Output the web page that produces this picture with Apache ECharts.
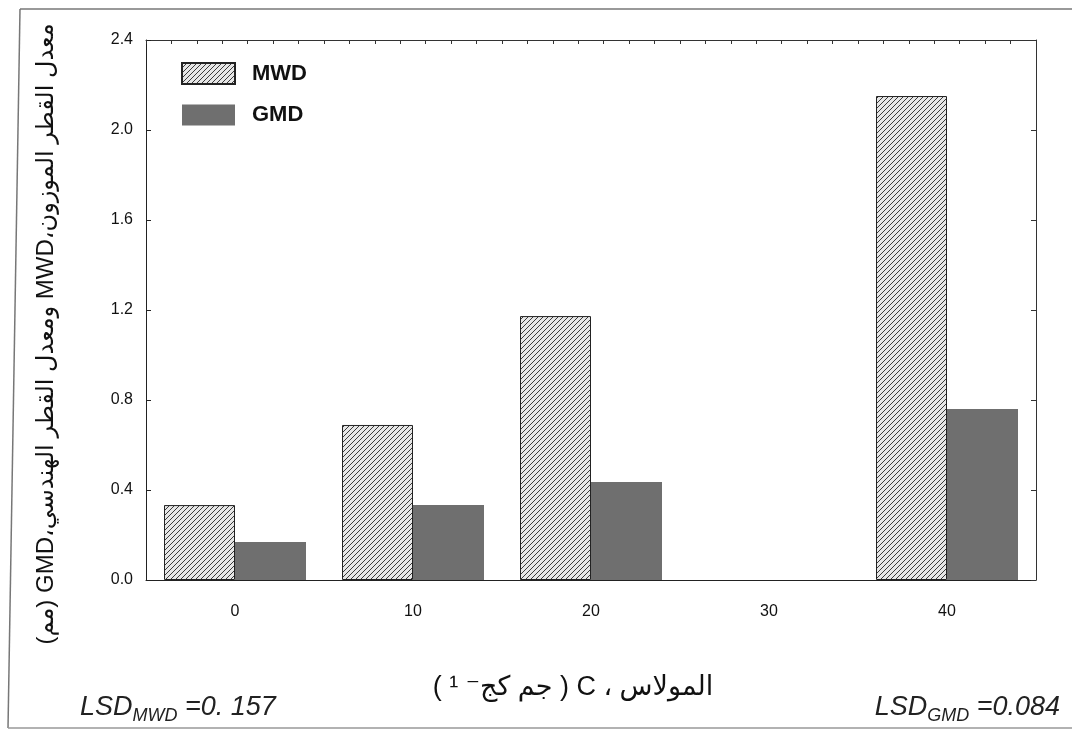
<!DOCTYPE html>
<html>
<head>
<meta charset="utf-8">
<script src="https://cdn.jsdelivr.net/npm/echarts@6/dist/echarts.min.js"></script>
<style>
html,body{margin:0;padding:0;background:#fff;}
#chart{width:1072px;height:732px;}
</style>
</head>
<body>
<div id="chart"></div>
<script>
// ---- data ----
const categories = ['0', '10', '20', '30', '40'];
const mwdValues = [0.333, 0.689, 1.173, null, 2.151];
const gmdValues = [0.169, 0.333, 0.436, null, 0.760];
const yTicks = [0.0, 0.4, 0.8, 1.2, 1.6, 2.0, 2.4];
const topMinorTicks = new Array(35).fill('');
const lsdMwd = '0.157';
const lsdGmd = '0.084';

// hatch pattern
function makeHatch() {
  const c = document.createElement('canvas');
  const s = 5;
  c.width = s; c.height = s;
  const ctx = c.getContext('2d');
  ctx.fillStyle = '#e6e6e6';
  ctx.fillRect(0, 0, s, s);
  ctx.strokeStyle = '#3a3a3a';
  ctx.lineWidth = 1;
  ctx.beginPath();
  ctx.moveTo(-1, s + 1); ctx.lineTo(s + 1, -1);
  ctx.moveTo(-1, 1); ctx.lineTo(1, -1);
  ctx.moveTo(s - 1, s + 1); ctx.lineTo(s + 1, s - 1);
  ctx.stroke();
  return c;
}
const hatch = makeHatch();
const FONT = 'Liberation Sans, Arial, DejaVu Sans, sans-serif';

const chart = echarts.init(document.getElementById('chart'), null, {renderer: 'canvas'});
chart.setOption({
  animation: false,
  backgroundColor: '#fff',
  grid: {left: 146, right: 36, top: 40, bottom: 152},
  legend: {
    orient: 'vertical', left: 176, top: 57, itemWidth: 53, itemHeight: 21, itemGap: 19,
    icon: 'rect',
    textStyle: {fontFamily: FONT, fontSize: 22, fontWeight: 'bold', color: '#111', padding: [0, 0, 0, 12]},
    data: ['MWD', 'GMD']
  },
  xAxis: [
    {
      type: 'category', data: categories, position: 'bottom',
      axisLine: {lineStyle: {color: '#222', width: 1}},
      axisTick: {show: false},
      axisLabel: {fontFamily: FONT, fontSize: 16, color: '#111', margin: 24}
    },
    {
      type: 'category', data: topMinorTicks, position: 'top',
      axisLine: {onZero: false, lineStyle: {color: '#333', width: 1}},
      axisTick: {show: true, inside: true, length: 4, lineStyle: {color: '#333'}},
      axisLabel: {show: false}
    }
  ],
  yAxis: [
    {
      type: 'value', min: 0, max: 2.4, interval: 0.4, position: 'left',
      axisLine: {show: true, onZero: false, lineStyle: {color: '#222', width: 1}},
      axisTick: {show: true, inside: true, length: 5, lineStyle: {color: '#222'}},
      splitLine: {show: false},
      axisLabel: {fontFamily: FONT, fontSize: 16, color: '#111', margin: 13,
        formatter: v => Number(v).toFixed(1)}
    },
    {
      type: 'value', min: 0, max: 2.4, interval: 0.4, position: 'right',
      axisLine: {show: true, onZero: false, lineStyle: {color: '#333', width: 1}},
      axisTick: {show: true, inside: true, length: 5, lineStyle: {color: '#333'}},
      splitLine: {show: false},
      axisLabel: {show: false}
    }
  ],
  series: [
    {
      name: 'MWD', type: 'bar', data: mwdValues, barWidth: 71, barGap: '0%',
      itemStyle: {color: {image: hatch, repeat: 'repeat'}, borderColor: '#222', borderWidth: 1}
    },
    {
      name: 'GMD', type: 'bar', data: gmdValues, barWidth: 71,
      itemStyle: {color: '#6f6f6f'}
    }
  ],
  graphic: [
    {type: 'line', shape: {x1: 20, y1: 9, x2: 1072, y2: 9}, style: {stroke: '#777', lineWidth: 1.5}},
    {type: 'line', shape: {x1: 20, y1: 9, x2: 8, y2: 728}, style: {stroke: '#777', lineWidth: 1.5}},
    {type: 'line', shape: {x1: 8, y1: 728, x2: 1072, y2: 728}, style: {stroke: '#999', lineWidth: 1.5}},
    {
      type: 'text', x: 46, y: 334, rotation: Math.PI / 2,
      style: {
        text: '\u202Bمعدل القطر الموزون،MWD ومعدل القطر الهندسي،GMD (مم)\u202C',
        font: '24px ' + FONT, fill: '#111', align: 'center', verticalAlign: 'middle'
      }
    },
    {
      type: 'text', x: 573, y: 688,
      style: {
        text: '\u202Bالمولاس ، C ( جم كج⁻ ¹ )\u202C',
        font: '27px ' + FONT, fill: '#111', align: 'center', verticalAlign: 'middle'
      }
    },
    {
      type: 'text', x: 80, y: 721,
      style: {
        text: '{a|LSD}{b|MWD}{a| =0. ' + lsdMwd.slice(2) + '}',
        verticalAlign: 'bottom', align: 'left',
        rich: {
          a: {fontFamily: FONT, fontStyle: 'italic', fontSize: 27, fill: '#222', verticalAlign: 'bottom'},
          b: {fontFamily: FONT, fontStyle: 'italic', fontSize: 18, fill: '#222', verticalAlign: 'bottom', padding: [0, 0, -4, 0]}
        }
      }
    },
    {
      type: 'text', x: 1060, y: 721,
      style: {
        text: '{a|LSD}{b|GMD}{a| =' + lsdGmd + '}',
        verticalAlign: 'bottom', align: 'right',
        rich: {
          a: {fontFamily: FONT, fontStyle: 'italic', fontSize: 27, fill: '#222', verticalAlign: 'bottom'},
          b: {fontFamily: FONT, fontStyle: 'italic', fontSize: 18, fill: '#222', verticalAlign: 'bottom', padding: [0, 0, -4, 0]}
        }
      }
    }
  ]
});
</script>
</body>
</html>
